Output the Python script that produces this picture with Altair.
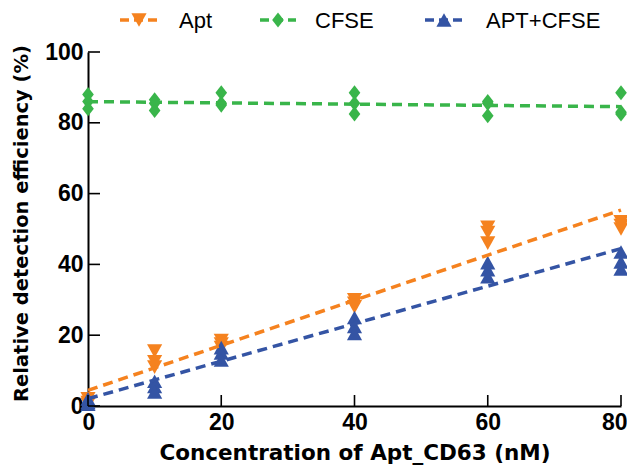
import altair as alt
import pandas as pd

# ---- data ----
conc = [0, 10, 20, 40, 60, 80]
apt = [[2, 1, 0.5], [15.5, 12.5, 11], [18.5, 17.5, 16.5], [30, 29, 28], [50.5, 49, 46], [52, 51, 50]]
cfse = [[88, 86, 84], [86.5, 85.5, 83.5], [88.5, 85.5, 85], [88.5, 85.5, 82.5], [86, 85.5, 82], [88.5, 83, 82.5]]
apt_cfse = [[2, 1, 0.5], [7, 5.5, 4], [16.5, 15, 13], [25, 22.5, 20.5], [40.5, 38.5, 36.5], [43.5, 40.7, 38.7]]

series_names = ["Apt", "CFSE", "APT+CFSE"]
series_colors = ["#F5821F", "#39B54A", "#3454A4"]
TRI_DOWN = "M0,0.9L1,-0.9L-1,-0.9Z"
DIAMOND = "M0,-1L0.77,0L0,1L-0.77,0Z"
TRI_UP = "M0,-0.9L1,0.9L-1,0.9Z"
series_shapes = [TRI_DOWN, DIAMOND, TRI_UP]

x_ticks = [0, 20, 40, 60, 80]
y_ticks = [0, 20, 40, 60, 80, 100]

rows = []
for name, vals in zip(series_names, [apt, cfse, apt_cfse]):
    for c, reps in zip(conc, vals):
        for v in reps:
            rows.append({"series": name, "conc": c, "eff": v})
df = pd.DataFrame(rows)

W, H = 533, 354
FONT = "Liberation Sans"
XT = "Concentration of Apt_CD63 (nM)"
YT = "Relative detection efficiency (%)"
MS = 230

xs = alt.Scale(domain=[0, 80], nice=False, zero=False)
ys = alt.Scale(domain=[0, 100], nice=False)
color_scale = alt.Scale(domain=series_names, range=series_colors)
shape_scale = alt.Scale(domain=series_names, range=series_shapes)

base = alt.Chart(df)

points = base.mark_point(filled=True, opacity=1, size=MS, strokeWidth=0).encode(
    x=alt.X("conc:Q", scale=xs, title=XT,
            axis=alt.Axis(values=x_ticks, titleX=W / 2, titleY=47,
                          labelFlush=True, labelFlushOffset=6,
                          titleBaseline="middle", titleAlign="center",
                          titleFont="DejaVu Sans", titleFontSize=21.5)),
    y=alt.Y("eff:Q", scale=ys, title=YT,
            axis=alt.Axis(values=y_ticks, titleX=-67, titleY=171, titleAngle=270,
                          titleBaseline="middle", titleAlign="center",
                          titleFont="DejaVu Sans", titleFontSize=19.5)),
    color=alt.Color("series:N", scale=color_scale, legend=None),
    shape=alt.Shape("series:N", scale=shape_scale, legend=None),
)

fits = base.transform_regression(
    "conc", "eff", groupby=["series"], extent=[0, 80]
).mark_line(strokeDash=[10, 6], strokeWidth=3.5).encode(
    x=alt.X("conc:Q", scale=xs, title=XT),
    y=alt.Y("eff:Q", scale=ys, title=YT),
    color=alt.Color("series:N", scale=color_scale, legend=None),
)

# inward-pointing ticks
xt = alt.Chart(pd.DataFrame({"conc": x_ticks})).mark_rule(color="black", strokeWidth=1.6).encode(
    x=alt.X("conc:Q", scale=xs, title=XT), y=alt.value(H), y2=alt.value(H - 11))
yt = alt.Chart(pd.DataFrame({"eff": y_ticks})).mark_rule(color="black", strokeWidth=1.6).encode(
    y=alt.Y("eff:Q", scale=ys, title=YT), x=alt.value(0), x2=alt.value(12))

# manual legend above the plot
leg = pd.DataFrame({
    "name": series_names,
    "color": series_colors,
    "shape": series_shapes,
    "x0": [32, 172, 337],
    "x1": [69, 208, 376],
    "xm": [51, 190, 356],
    "xt": [91, 227, 398],
})
leg_base = alt.Chart(leg)
leg_line = leg_base.mark_rule(strokeDash=[9, 5], strokeWidth=3.5).encode(
    x=alt.X("x0:Q", scale=None), x2="x1:Q", y=alt.value(-32),
    color=alt.Color("color:N", scale=None))
leg_pt = leg_base.mark_point(filled=True, opacity=1, size=MS, strokeWidth=0).encode(
    x=alt.X("xm:Q", scale=None), y=alt.value(-32),
    color=alt.Color("color:N", scale=None), shape=alt.Shape("shape:N", scale=None))
leg_txt = leg_base.mark_text(align="left", baseline="middle", font=FONT, fontSize=22,
                             color="black").encode(
    x=alt.X("xt:Q", scale=None), y=alt.value(-31), text="name:N")

chart = alt.layer(points, fits, xt, yt, leg_line, leg_pt, leg_txt).properties(
    width=W, height=H,
    autosize=alt.AutoSizeParams(type="none"),
    padding={"left": 80, "top": 44, "right": 6, "bottom": 60},
).configure_view(stroke=None).configure_axis(
    grid=False, domainColor="black", domainWidth=2, tickSize=0,
    labelFont=FONT, labelFontSize=23, labelFontWeight="bold", labelColor="black",
    labelPadding=5, titleColor="black", titleFontWeight="bold",
)

chart.save("out.html", embed_options={"renderer": "svg", "actions": False})
